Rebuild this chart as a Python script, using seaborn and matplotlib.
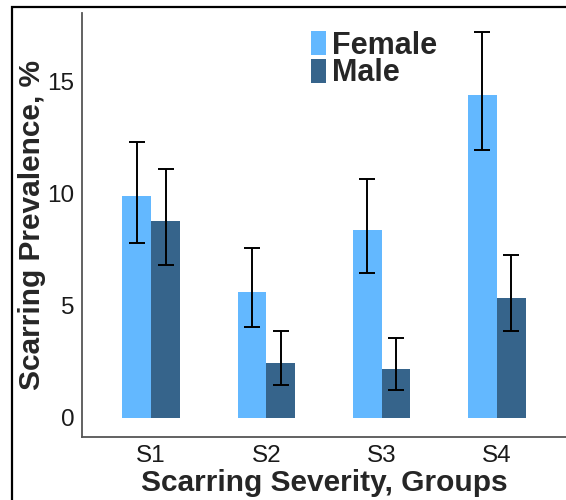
import pandas as pd
import matplotlib
matplotlib.use("Agg")
import matplotlib.pyplot as plt
import seaborn as sns
from matplotlib.patches import Rectangle

# data
groups = ["S1", "S2", "S3", "S4"]
female = [9.88, 5.61, 8.38, 14.40]
male = [8.78, 2.45, 2.19, 5.34]
female_lo = [7.81, 4.06, 6.47, 11.95]
female_hi = [12.29, 7.56, 10.64, 17.19]
male_lo = [6.83, 1.46, 1.25, 3.85]
male_hi = [11.08, 3.88, 3.54, 7.25]

sns.set_style("white")
plt.rcParams["font.family"] = ["Liberation Sans", "DejaVu Sans"]

df = pd.DataFrame({
    "group": groups * 2,
    "sex": ["Female"] * 4 + ["Male"] * 4,
    "prev": female + male,
    "lo": female_lo + male_lo,
    "hi": female_hi + male_hi,
})

fig = plt.figure(figsize=(5.66, 5.0), dpi=100)
ax = fig.add_axes([82 / 566, 1 - 437 / 500, 1 - 82 / 566, (437 - 13) / 500])

sns.barplot(data=df, x="group", y="prev", hue="sex", order=groups,
            hue_order=["Female", "Male"],
            palette={"Female": "#63B8FF", "Male": "#36648B"},
            width=0.5, gap=0, errorbar=None, saturation=1,
            edgecolor="none", ax=ax)

# error bars at the bar centres
bars = [p for p in ax.patches if p.get_height() > 0]
bars = sorted(bars, key=lambda p: p.get_x())
ordered = df.copy()
ordered["order"] = [groups.index(g) for g in df["group"]]
ordered["hue_i"] = [0 if s == "Female" else 1 for s in df["sex"]]
ordered = ordered.sort_values(["order", "hue_i"]).reset_index(drop=True)
for p, (_, row) in zip(bars, ordered.iterrows()):
    xc = p.get_x() + p.get_width() / 2
    ax.errorbar(xc, row["prev"], yerr=[[row["prev"] - row["lo"]], [row["hi"] - row["prev"]]],
                fmt="none", ecolor="black", elinewidth=1.4, capsize=5.8, capthick=1.4)

ax.set_xlim(-0.6, 3.6)
ax.set_ylim(-0.86, 18.06)
ax.set_yticks([0, 5, 10, 15])

for s in ["top", "right"]:
    ax.spines[s].set_visible(False)
for s in ["left", "bottom"]:
    ax.spines[s].set_color("#555555")
    ax.spines[s].set_linewidth(1.3)

ax.tick_params(axis="both", colors="#555555", length=3.5, width=0.8,
               labelsize=17.5, labelcolor="#1a1a1a", pad=2)
ax.tick_params(axis="x", pad=2)

ax.set_xlabel("Scarring Severity, Groups", fontsize=21.5, fontweight="bold")
ax.set_ylabel("Scarring Prevalence, %", fontsize=21.5, fontweight="bold")
ax.xaxis.set_label_coords(0.5, -0.075)
ax.yaxis.set_label_coords(-0.0744, 0.5)

leg = ax.legend(loc="upper left", bbox_to_anchor=(0.473, 0.958), frameon=False,
                prop={"weight": "bold", "size": 22},
                handlelength=0.5, handleheight=0.85, handletextpad=0.2,
                labelspacing=-0.08, borderpad=0, borderaxespad=0)

# outer frame (cropped: only left and top edges visible)
fig.patches.append(Rectangle((12 / 566, -0.2), 1.2, 1.2 - 7 / 500,
                             transform=fig.transFigure, fill=False,
                             edgecolor="black", linewidth=1.6, clip_on=False, zorder=10))

fig.savefig("out.png", dpi=100)
